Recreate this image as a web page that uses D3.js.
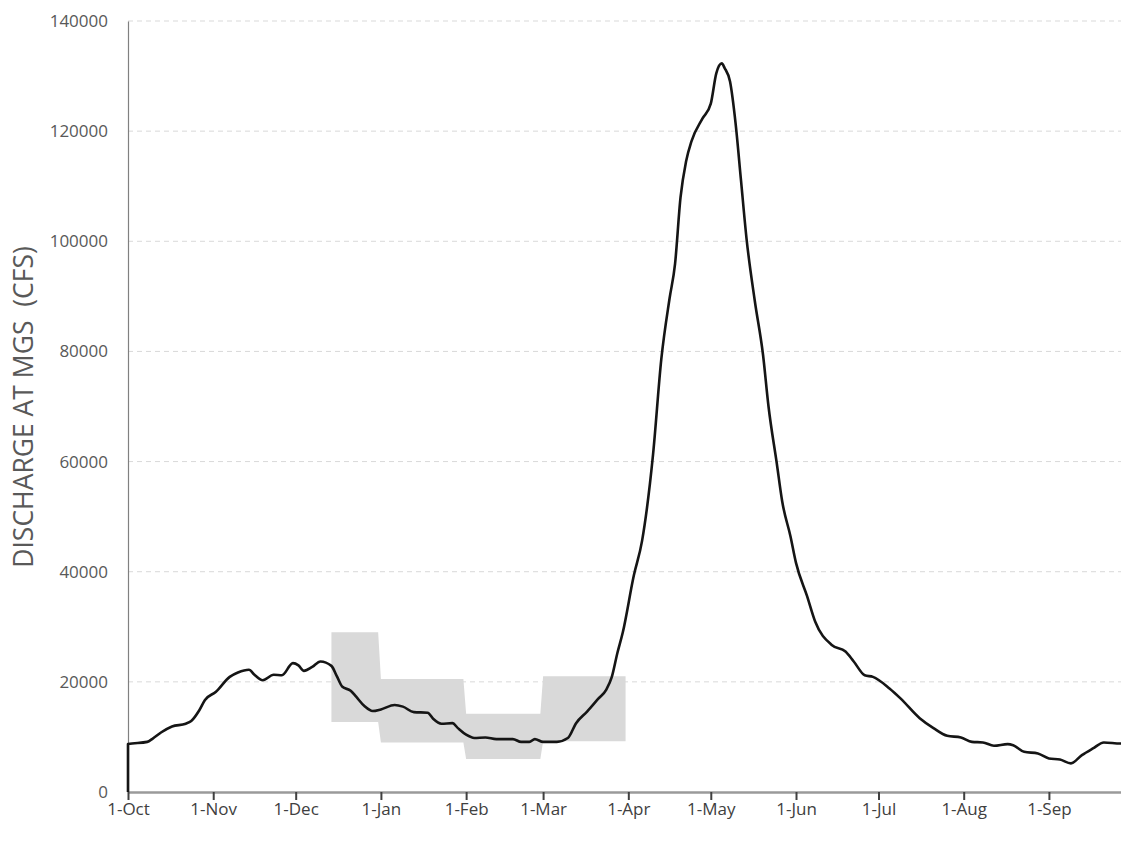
<!DOCTYPE html>
<html>
<head>
<meta charset="utf-8">
<script src="https://cdn.jsdelivr.net/npm/d3@7/dist/d3.min.js"></script>
<style>
  html, body { margin: 0; padding: 0; background: #ffffff; }
  svg { display: block; }
  text { font-family: "Open Sans", "Liberation Sans", sans-serif; }
</style>
</head>
<body>
<svg id="chart" width="1121" height="842"></svg>
<script>
// Daily mean discharge at MGS, water year Oct 2000 - Sep 2001 (cfs)
const flowDates = [
  "2000-10-01","2000-10-01","2000-10-08","2000-10-10","2000-10-13","2000-10-17","2000-10-22","2000-10-24",
  "2000-10-27","2000-10-29","2000-11-02","2000-11-07","2000-11-10","2000-11-14","2000-11-16","2000-11-19",
  "2000-11-23","2000-11-26","2000-11-30","2000-12-02","2000-12-04","2000-12-07","2000-12-10","2000-12-14",
  "2000-12-16","2000-12-18","2000-12-21","2000-12-23","2000-12-26","2000-12-29","2001-01-01","2001-01-06",
  "2001-01-09","2001-01-13","2001-01-18","2001-01-20","2001-01-23","2001-01-27","2001-01-29","2001-02-01",
  "2001-02-04","2001-02-08","2001-02-12","2001-02-18","2001-02-21","2001-02-24","2001-02-26","2001-03-01",
  "2001-03-06","2001-03-10","2001-03-13","2001-03-17","2001-03-21","2001-03-24","2001-03-26","2001-03-28",
  "2001-03-30","2001-04-03","2001-04-06","2001-04-10","2001-04-13","2001-04-16","2001-04-18","2001-04-20",
  "2001-04-22","2001-04-24","2001-04-28","2001-05-01","2001-05-03","2001-05-05","2001-05-06","2001-05-08",
  "2001-05-10","2001-05-12","2001-05-14","2001-05-17","2001-05-20","2001-05-22","2001-05-25","2001-05-27",
  "2001-05-30","2001-06-01","2001-06-05","2001-06-08","2001-06-14","2001-06-19","2001-06-22","2001-06-26",
  "2001-06-29","2001-07-05","2001-07-09","2001-07-16","2001-07-21","2001-07-26","2001-07-31","2001-08-04",
  "2001-08-08","2001-08-12","2001-08-17","2001-08-19","2001-08-23","2001-08-28","2001-09-01","2001-09-05",
  "2001-09-09","2001-09-13","2001-09-17","2001-09-21","2001-09-27","2001-09-30"
];
const flowValues = [
  0, 8700, 9100, 9700, 10800, 11900, 12400, 12900,
  14900, 16700, 18200, 20900, 21700, 22200, 21300, 20300,
  21300, 21200, 23400, 23000, 22000, 22700, 23700, 22900,
  21000, 19100, 18400, 17300, 15600, 14700, 15000, 15800,
  15500, 14500, 14400, 13300, 12400, 12500, 11600, 10400,
  9800, 9900, 9600, 9600, 9100, 9100, 9600, 9100,
  9100, 9800, 12500, 14600, 16900, 18600, 20900, 25200,
  29000, 39300, 45600, 61300, 78600, 89600, 95900, 108000,
  114500, 118200, 122300, 125000, 130500, 132300, 131500, 129000,
  121500, 111000, 100500, 89200, 79400, 70000, 59700, 52700,
  46400, 41600, 35600, 30900, 26700, 25500, 23700, 21200,
  20900, 18800, 17000, 13400, 11600, 10200, 9900, 9100,
  9000, 8400, 8700, 8500, 7300, 7000, 6100, 5900,
  5200, 6700, 7900, 9000, 8800, 8800
];

// Target flow range, one step per period
const rangeStart = ["2000-12-14", "2001-01-01", "2001-02-01", "2001-03-01"];
const rangeEnd   = ["2000-12-31", "2001-01-31", "2001-02-28", "2001-03-31"];
const rangeLow   = [12700, 9000, 6000, 9200];
const rangeHigh  = [29000, 20500, 14200, 21000];

// Axis ticks
const monthTicks  = ["2000-10-01","2000-11-01","2000-12-01","2001-01-01","2001-02-01","2001-03-01",
                     "2001-04-01","2001-05-01","2001-06-01","2001-07-01","2001-08-01","2001-09-01"];
const monthLabels = ["1-Oct","1-Nov","1-Dec","1-Jan","1-Feb","1-Mar","1-Apr","1-May","1-Jun","1-Jul","1-Aug","1-Sep"];
const yTicks = [0, 20000, 40000, 60000, 80000, 100000, 120000, 140000];
const yTitle = "DISCHARGE AT MGS  (CFS)";

const parse = d3.utcParse("%Y-%m-%d");
const svg = d3.select("#chart");

const x0 = 128, y0 = 792, yTop = 21;
const x = d3.scaleUtc()
  .domain([parse("2000-10-01"), parse("2001-10-01")])
  .range([x0, x0 + 365 * 2.749]);
const y = d3.scaleLinear().domain([0, 140000]).range([y0, yTop]);

// Horizontal dashed gridlines
svg.append("g")
  .selectAll("line")
  .data(yTicks.filter(v => v > 0))
  .join("line")
  .attr("x1", x0).attr("x2", 1121)
  .attr("y1", d => y(d)).attr("y2", d => y(d))
  .attr("stroke", "#d9d9d9")
  .attr("stroke-width", 1)
  .attr("stroke-dasharray", "5,4");

// Shaded range band
const bandPts = [];
rangeStart.forEach((s, i) => {
  bandPts.push({ d: parse(s), lo: rangeLow[i], hi: rangeHigh[i] });
  bandPts.push({ d: parse(rangeEnd[i]), lo: rangeLow[i], hi: rangeHigh[i] });
});
svg.append("path")
  .datum(bandPts)
  .attr("fill", "#d9d9d9")
  .attr("d", d3.area().x(p => x(p.d)).y0(p => y(p.lo)).y1(p => y(p.hi)));

// Y axis
const yAxis = svg.append("g")
  .attr("transform", `translate(${x0},0)`)
  .call(d3.axisLeft(y).tickValues(yTicks).tickSize(0).tickPadding(20).tickFormat(d3.format("d")));
yAxis.select(".domain").attr("stroke", "#808080").attr("stroke-width", 1.2);
yAxis.selectAll("text")
  .attr("fill", "#595959")
  .style("font-size", "17px")
  .style("font-family", "'Open Sans', sans-serif");

// X axis
const xAxis = svg.append("g")
  .attr("transform", `translate(0,${y0})`)
  .call(d3.axisBottom(x)
    .tickValues(monthTicks.map(parse))
    .tickSize(8)
    .tickPadding(3)
    .tickFormat((d, i) => monthLabels[i]));
xAxis.select(".domain").attr("stroke", "#9a9a9a").attr("stroke-width", 2.5)
  .attr("d", `M${x0},0.5H1121`);
xAxis.selectAll(".tick line").attr("stroke", "#404040").attr("stroke-width", 2);
xAxis.selectAll("text")
  .attr("fill", "#404040")
  .style("font-size", "17px")
  .style("font-family", "'Open Sans', sans-serif");

// Axis title
svg.append("text")
  .attr("transform", `translate(33,407) rotate(-90)`)
  .attr("text-anchor", "middle")
  .attr("fill", "#595959")
  .style("font-size", "26.5px")
  .style("white-space", "pre")
  .text(yTitle);

// Discharge line
const flow = flowDates.map((d, i) => ({ d: parse(d), v: flowValues[i] }));
svg.append("path")
  .datum(flow)
  .attr("fill", "none")
  .attr("stroke", "#151515")
  .attr("stroke-width", 2.6)
  .attr("stroke-linejoin", "round")
  .attr("d", d3.line().x(p => x(p.d)).y(p => y(p.v)).curve(d3.curveMonotoneX));
</script>
</body>
</html>
